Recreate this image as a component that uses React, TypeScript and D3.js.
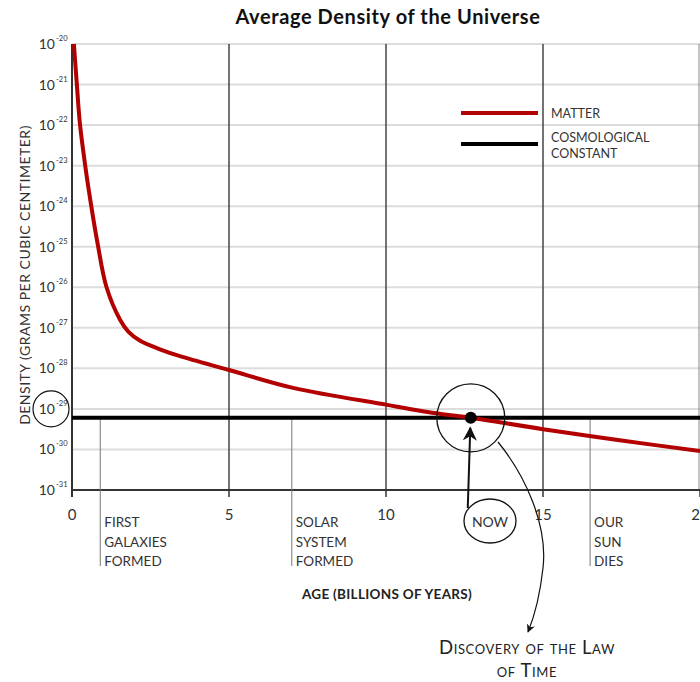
import React from 'react';
import * as d3 from 'd3';

// matter density curve: age (Gyr) vs log10(g/cm^3)
const matterAge = [0.06, 0.15, 0.25, 0.41, 0.6, 0.81, 1.1, 1.53, 1.8, 2.17, 2.8, 3.44, 5.0, 7.04, 10.03, 11.7, 12.7, 15, 17.5, 20];
const matterLog = [-20, -20.95, -21.95, -22.94, -23.93, -24.9, -26, -26.8, -27.1, -27.32, -27.53, -27.7, -28.04, -28.48, -28.9, -29.12, -29.22, -29.5, -29.78, -30.04];

const lambdaLog = -29.22;
const yExponents = [-20, -21, -22, -23, -24, -25, -26, -27, -28, -29, -30, -31];
const xTicks = [0, 5, 10, 15, 20];

const events = [
  { age: 0.9, lines: ['FIRST', 'GALAXIES', 'FORMED'] },
  { age: 7.0, lines: ['SOLAR', 'SYSTEM', 'FORMED'] },
  { age: 16.5, lines: ['OUR', 'SUN', 'DIES'] },
];
const nowAge = 12.7;

const font = 'Lato, "Open Sans", sans-serif';

export default function App() {
  const W = 700;
  const H = 682;
  const x = d3.scaleLinear().domain([0, 20]).range([72, 700]);
  const y = d3.scaleLog().domain([1e-31, 1e-20]).range([490, 44]);

  const pts = matterAge.map((a, i) => [x(a), y(Math.pow(10, matterLog[i]))] as [number, number]);
  const line = d3.line().curve(d3.curveCatmullRom.alpha(0.5))(pts) || '';

  const yl = y(Math.pow(10, lambdaLog));
  const nx = x(nowAge);

  return (
    <div style={{ position: 'absolute', left: 0, top: 0 }}>
      <svg width={W} height={H} style={{ display: 'block', background: '#fff' }} fontFamily={font}>
        <defs>
          <marker id="ah" viewBox="0 0 10 10" refX="9" refY="5" markerWidth="7" markerHeight="7" orient="auto-start-reverse">
            <path d="M0,0 L10,5 L0,10 L3,5 z" fill="#111" />
          </marker>
        </defs>

        <text x={388} y={24} textAnchor="middle" fontSize={20} fontWeight={700} letterSpacing={0.6} fill="#111">
          Average Density of the Universe
        </text>

        {/* horizontal grid */}
        {yExponents.slice(0, -1).map(e => (
          <line key={e} x1={x(0)} x2={x(20)} y1={y(Math.pow(10, e))} y2={y(Math.pow(10, e))} stroke="#dcdcdc" strokeWidth={2} />
        ))}

        {/* vertical grid */}
        {[5, 10, 15].map(v => (
          <line key={v} x1={x(v)} x2={x(v)} y1={y(1e-20)} y2={y(1e-31)} stroke="#444" strokeWidth={1.5} />
        ))}
        <line x1={x(20) - 1} x2={x(20) - 1} y1={y(1e-20)} y2={y(1e-31)} stroke="#888" strokeWidth={1} />

        {/* axes */}
        <line x1={x(0)} x2={x(0)} y1={y(1e-20)} y2={y(1e-31) + 7} stroke="#333" strokeWidth={2} />
        <line x1={x(0)} x2={x(20)} y1={y(1e-31)} y2={y(1e-31)} stroke="#333" strokeWidth={2} />
        {xTicks.map(v => (
          <g key={v}>
            <line x1={x(v)} x2={x(v)} y1={y(1e-31)} y2={y(1e-31) + 7} stroke="#333" strokeWidth={1.5} />
            <text x={x(v)} y={520} textAnchor="middle" fontSize={15} fill="#333">{v}</text>
          </g>
        ))}
        {yExponents.map(e => (
          <text key={e} x={55} y={y(Math.pow(10, e)) + 5} textAnchor="end" fontSize={14} fill="#333">
            10
          </text>
        ))}
        {yExponents.map(e => (
          <text key={'s' + e} x={56} y={y(Math.pow(10, e)) - 3} fontSize={7.5} fill="#333">{e}</text>
        ))}
        <circle cx={51} cy={y(1e-29)} r={18} fill="none" stroke="#111" strokeWidth={1.2} />

        <text transform={`translate(30,${275}) rotate(-90)`} textAnchor="middle" fontSize={14} letterSpacing={0.5} fill="#333">
          DENSITY (GRAMS PER CUBIC CENTIMETER)
        </text>
        <text x={387} y={599} textAnchor="middle" fontSize={13.5} fontWeight={700} letterSpacing={0.3} fill="#222">
          AGE (BILLIONS OF YEARS)
        </text>

        {/* event markers */}
        {events.map(ev => (
          <g key={ev.age}>
            <line x1={x(ev.age)} x2={x(ev.age)} y1={yl} y2={566} stroke="#777" strokeWidth={1} />
            {ev.lines.map((t, i) => (
              <text key={t} x={x(ev.age) + 4} y={527 + i * 19.5} fontSize={13.5} fill="#333">{t}</text>
            ))}
          </g>
        ))}

        {/* cosmological constant */}
        <line x1={x(0)} x2={x(20)} y1={yl} y2={yl} stroke="#000" strokeWidth={4} />
        {/* matter */}
        <path d={line} fill="none" stroke="#b30000" strokeWidth={4} />

        {/* now */}
        <circle cx={nx} cy={yl} r={34} fill="none" stroke="#111" strokeWidth={1.3} />
        <circle cx={nx} cy={yl} r={6} fill="#000" />
        <line x1={nx - 3} x2={nx - 0.5} y1={508} y2={yl + 10} stroke="#111" strokeWidth={2} markerEnd="url(#ah)" />
        <ellipse cx={490} cy={521} rx={26} ry={22} fill="none" stroke="#111" strokeWidth={1.3} />
        <text x={490} y={527} textAnchor="middle" fontSize={14} fill="#333">NOW</text>

        <path d="M498,442 C525,475 548,525 543,568 C540,595 535,615 528,632" fill="none" stroke="#111" strokeWidth={1.2} markerEnd="url(#ah)" />
        <text x={527} y={654} textAnchor="middle" fontSize={18.5} letterSpacing={0.6} fill="#222" style={{ fontVariant: 'small-caps' }}>
          Discovery of the Law
        </text>
        <text x={527} y={677} textAnchor="middle" fontSize={18.5} letterSpacing={0.6} fill="#222" style={{ fontVariant: 'small-caps' }}>
          of Time
        </text>

        {/* legend */}
        <line x1={461} x2={538} y1={113} y2={113} stroke="#b30000" strokeWidth={4} />
        <line x1={461} x2={538} y1={144} y2={144} stroke="#000" strokeWidth={4} />
        <text x={551} y={118} fontSize={12.5} fill="#333">MATTER</text>
        <text x={551} y={142} fontSize={12.5} fill="#333">COSMOLOGICAL</text>
        <text x={551} y={158} fontSize={12.5} fill="#333">CONSTANT</text>
      </svg>
    </div>
  );
}
